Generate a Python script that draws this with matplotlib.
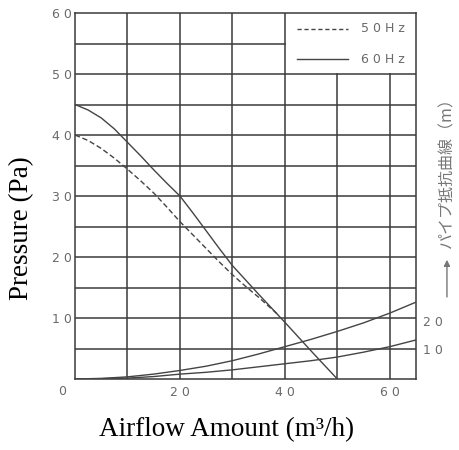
import matplotlib
matplotlib.use("Agg")
import matplotlib.pyplot as plt

# ---- data ----
x_50hz = [0, 2.5, 5, 7.5, 10, 12.5, 15, 17.5, 20, 22.5, 25, 27.5, 30, 32.5, 35, 38.5]
y_50hz = [40, 39.1, 37.8, 36.2, 34.4, 32.5, 30.5, 28.2, 25.8, 23.6, 21.4, 19.2, 17.1, 15.2, 13.4, 10.7]
x_60hz = [0, 2.5, 5, 7.5, 10, 12.5, 15, 17.5, 20, 22.5, 25, 27.5, 30, 35, 40, 45, 50]
y_60hz = [45, 44.1, 42.8, 41.0, 38.8, 36.6, 34.3, 32.1, 30, 27.2, 24.3, 21.4, 18.6, 13.9, 9.3, 4.6, 0]
x_pipe = [0, 5, 10, 15, 20, 25, 30, 35, 40, 45, 50, 55, 60, 65]
y_pipe20 = [0, 0.1, 0.35, 0.8, 1.4, 2.1, 3.0, 4.1, 5.3, 6.5, 7.8, 9.2, 10.8, 12.6]
y_pipe10 = [0, 0.05, 0.15, 0.4, 0.8, 1.1, 1.5, 2.0, 2.5, 3.0, 3.6, 4.4, 5.3, 6.4]
xticks = [20, 40, 60]
yticks = [10, 20, 30, 40, 50, 60]
pipe_labels = ["20", "10"]
legend_labels = ["50Hz", "60Hz"]

GRID = "#3a3a3a"
CURVE = "#444444"
TICK = "#6a6a6a"

fig = plt.figure(figsize=(4.59, 4.5), dpi=100)
ax = fig.add_axes([75/459, 1-379/450, (416-75)/459, (379-13)/450])
ax.set_xlim(0, 65)
ax.set_ylim(0, 60)

# grid lines
for yv in range(5, 60, 5):
    xe = 40 if yv > 50 else 65
    ax.plot([0, xe], [yv, yv], color=GRID, lw=1.1, zorder=1)
for xv in range(10, 65, 10):
    ye = 50 if xv > 40 else 60
    ax.plot([xv, xv], [0, ye], color=GRID, lw=1.1, zorder=1)
for s in ax.spines.values():
    s.set_color(GRID)
    s.set_linewidth(1.1)

# curves
ax.plot(x_50hz, y_50hz, color=CURVE, lw=1.0, ls=(0, (3.8, 2.0)), zorder=3)
ax.plot(x_60hz, y_60hz, color=CURVE, lw=1.0, zorder=3)
ax.plot(x_pipe, y_pipe20, color=CURVE, lw=1.0, zorder=3)
ax.plot(x_pipe, y_pipe10, color=CURVE, lw=1.0, zorder=3)

# ticks
ax.tick_params(length=0)
ax.set_xticks(xticks)
ax.set_xticklabels([" ".join(str(v)) for v in xticks], color=TICK, fontsize=9)
ax.tick_params(axis="x", pad=5)
ax.set_yticks(yticks)
ax.set_yticklabels([" ".join(str(v)) for v in yticks], color=TICK, fontsize=9)
ax.tick_params(axis="y", pad=2)
ax.text(-2.5, -2, "0", color=TICK, fontsize=9, ha="center", va="center", clip_on=False)

# legend (inside top-right box)
ax.plot([42.3, 52], [57.4, 57.4], color=CURVE, lw=1.0, ls=(0, (3, 2)))
ax.plot([42.3, 52], [52.4, 52.4], color=CURVE, lw=1.0)
ax.text(54.6, 57.4, " ".join(legend_labels[0]), color=TICK, fontsize=9, va="center")
ax.text(54.6, 52.4, " ".join(legend_labels[1]), color=TICK, fontsize=9, va="center")

# pipe curve labels on right
ax.text(68.2, 9.2, " ".join(pipe_labels[0]), color=TICK, fontsize=9, ha="center", va="center", clip_on=False)
ax.text(68.2, 4.6, " ".join(pipe_labels[1]), color=TICK, fontsize=9, ha="center", va="center", clip_on=False)
ax.annotate("", xy=(70.9, 20), xytext=(70.9, 13),
            arrowprops=dict(arrowstyle="-|>", color="#777777", lw=1.0, mutation_scale=9),
            annotation_clip=False)
ax.text(70.9, 34.5, "パイプ抵抗曲線（m）", rotation=90, color="#777777", fontsize=11.5,
        ha="center", va="center", family=["Noto Sans CJK JP", "DejaVu Sans"], clip_on=False)

# axis labels
fig.text(22/459, 1-228/450, "Pressure (Pa)", rotation=90, ha="center", va="center",
         family="Liberation Serif", fontsize=19.5)
fig.text(227/459, 1-430/450, "Airflow Amount (m³/h)", ha="center", va="center",
         family="Liberation Serif", fontsize=19.5)

fig.savefig("out.png", dpi=100)
